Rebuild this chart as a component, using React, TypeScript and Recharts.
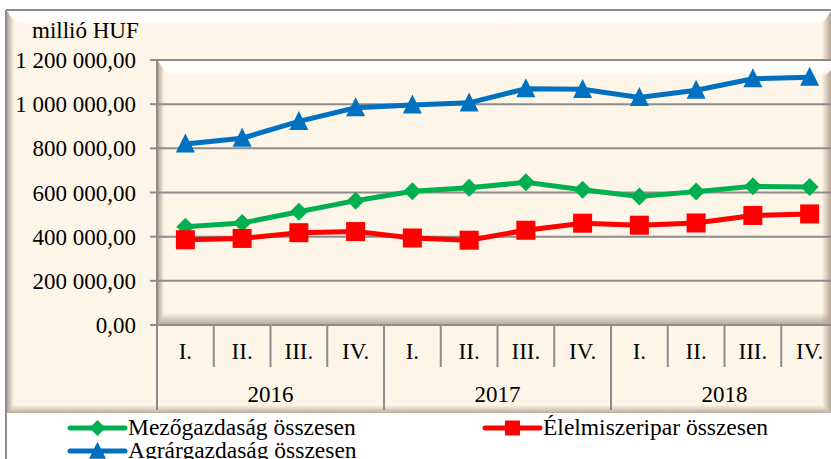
import React from 'react';
import { LineChart, Line, XAxis, YAxis, CartesianGrid, Legend } from 'recharts';

const QUARTERS = ['I.', 'II.', 'III.', 'IV.', 'I.', 'II.', 'III.', 'IV.', 'I.', 'II.', 'III.', 'IV.'];
const YEARS = ['2016', '2017', '2018'];
const MEZO = [445000, 462000, 513000, 563000, 606000, 621000, 646000, 612000, 582000, 604000, 628000, 625000];
const ELEL = [386000, 392000, 418000, 423000, 394000, 384000, 429000, 461000, 452000, 462000, 496000, 503000];
const AGRAR = [820000, 846000, 922000, 984000, 996000, 1006000, 1070000, 1067000, 1030000, 1063000, 1115000, 1122000];
const Y_TICKS = [0, 200000, 400000, 600000, 800000, 1000000, 1200000];
const SERIES_NAMES = ['Mezőgazdaság összesen', 'Élelmiszeripar összesen', 'Agrárgazdaság összesen'];
const UNIT = 'millió HUF';

const data = QUARTERS.map((q, i) => ({
  q,
  mezo: MEZO[i],
  elel: ELEL[i],
  agrar: AGRAR[i],
}));

const FONT = '"Liberation Serif", "Times New Roman", serif';
const FS = 23;
const LFS = 23.5;
const GRID = '#8c8c8c';
const BEIGE = '#FDF5E7';
const GREEN = '#00B050';
const RED = '#FF0000';
const BLUE = '#0070C0';

const CHART_W = 845;
const CHART_H = 459;
const PLOT_L = 157;
const PLOT_T = 60;
const PLOT_B = 325;
const PLOT_R = 838;
const BAND = (PLOT_R - PLOT_L) / QUARTERS.length;

const fmt = (v: number) => String(v).replace(/\B(?=(\d{3})+(?!\d))/g, ' ') + ',00';

const diamondEl = (cx: number, cy: number, r: number, fill: string, key?: any) => (
  <path key={key} d={`M${cx},${cy - r} L${cx + r},${cy} L${cx},${cy + r} L${cx - r},${cy} Z`} fill={fill} />
);
const squareEl = (cx: number, cy: number, s: number, fill: string, key?: any) => (
  <rect key={key} x={cx - s / 2} y={cy - s / 2} width={s} height={s} fill={fill} />
);
const triangleEl = (cx: number, cy: number, s: number, fill: string, key?: any) => (
  <path
    key={key}
    d={`M${cx},${cy - s * 0.55} L${cx + s / 2},${cy + s * 0.45} L${cx - s / 2},${cy + s * 0.45} Z`}
    fill={fill}
  />
);

const dotOf = (kind: string) => (p: any) => {
  const { cx, cy, index } = p;
  if (cx == null || cy == null) return <g key={`e${index}`} />;
  if (kind === 'mezo') return diamondEl(cx, cy, 9, GREEN, `d${index}`);
  if (kind === 'elel') return squareEl(cx, cy, 19, RED, `s${index}`);
  return triangleEl(cx, cy, 19, BLUE, `t${index}`);
};

const QuarterTick = (props: any) => {
  const { x, payload, index } = props;
  const last = index === QUARTERS.length - 1;
  return (
    <g>
      <text x={x} y={359} textAnchor="middle" fontFamily={FONT} fontSize={FS} fill="#000">
        {payload.value}
      </text>
      <line
        x1={x - BAND / 2}
        x2={x - BAND / 2}
        y1={PLOT_B}
        y2={index % 4 === 0 ? 410 : 367}
        stroke={GRID}
        strokeWidth={2}
      />
      {last && <line x1={x + BAND / 2} x2={x + BAND / 2} y1={PLOT_B} y2={410} stroke={GRID} strokeWidth={2} />}
      {index % 4 === 1 && (
        <text x={x + BAND / 2} y={402} textAnchor="middle" fontFamily={FONT} fontSize={FS} fill="#000">
          {YEARS[Math.floor(index / 4)]}
        </text>
      )}
    </g>
  );
};

const LEGEND_POS: Record<string, { x: number; y: number }> = {
  mezo: { x: 70, y: 15 },
  elel: { x: 485, y: 15 },
  agrar: { x: 70, y: 38 },
};

const LegendContent = (props: any) => {
  const { payload = [] } = props;
  return (
    <svg width={831} height={46} style={{ display: 'block' }}>
      {payload.map((p: any, i: number) => {
        const key = String(p.dataKey);
        const pos = LEGEND_POS[key] || { x: 70, y: 15 + 23 * i };
        const cx = pos.x + 27.5;
        const color = p.color;
        let marker: any = null;
        if (key === 'mezo') marker = diamondEl(cx, pos.y, 8, color);
        else if (key === 'elel') marker = squareEl(cx, pos.y, 15, color);
        else marker = triangleEl(cx, pos.y, 17, color);
        return (
          <g key={key}>
            <line x1={pos.x} x2={pos.x + 55} y1={pos.y} y2={pos.y} stroke={color} strokeWidth={5} strokeLinecap="round" />
            {marker}
            <text x={pos.x + 58} y={pos.y + 7} fontFamily={FONT} fontSize={LFS} fill="#000">
              {p.value}
            </text>
          </g>
        );
      })}
    </svg>
  );
};

const Background = () => (
  <svg width={831} height={459} style={{ position: 'absolute', left: 0, top: 0 }}>
    <defs>
      <linearGradient id="topW" x1="0" y1="0" x2="0" y2="1">
        <stop offset="0" stopColor="#ffffff" stopOpacity={1} />
        <stop offset="0.7" stopColor="#ffffff" stopOpacity={0.9} />
        <stop offset="1" stopColor="#ffffff" stopOpacity={0} />
      </linearGradient>
      <linearGradient id="leftS" x1="0" y1="0" x2="1" y2="0">
        <stop offset="0" stopColor="#b5a493" stopOpacity={1} />
        <stop offset="1" stopColor="#b5a493" stopOpacity={0} />
      </linearGradient>
      <linearGradient id="rightS" x1="0" y1="0" x2="1" y2="0">
        <stop offset="0" stopColor="#b5a493" stopOpacity={0} />
        <stop offset="1" stopColor="#b5a493" stopOpacity={1} />
      </linearGradient>
      <linearGradient id="botS" x1="0" y1="0" x2="0" y2="1">
        <stop offset="0" stopColor="#b5a493" stopOpacity={0} />
        <stop offset="1" stopColor="#b5a493" stopOpacity={0.9} />
      </linearGradient>
    </defs>
    <rect x={0} y={0} width={831} height={459} fill="#ffffff" />
    <rect x={7} y={11} width={824} height={402} fill={BEIGE} />
    <polygon points="8,11 831,11 822,25 20,25" fill="url(#topW)" />
    <polygon points="7,11 14,22 14,406 7,413" fill="url(#leftS)" />
    <polygon points="831,11 822,24 822,405 831,413" fill="url(#rightS)" />
    <polygon points="7,413 831,413 822,405 14,405" fill="url(#botS)" />
    <polygon points="158,61 838,61 826,76 170,76" fill="url(#topW)" />
    <polygon points="158,61 164,70 164,316 158,324" fill="url(#leftS)" />
    <polygon points="158,324 838,324 830,313 164,313" fill="url(#botS)" />
    <line x1={6} x2={831} y1={10} y2={10} stroke={GRID} strokeWidth={2} />
    <line x1={6} x2={6} y1={10} y2={459} stroke={GRID} strokeWidth={2} />
  </svg>
);

export default function App() {
  return (
    <div
      style={{
        position: 'fixed',
        left: 0,
        top: 0,
        width: 831,
        height: 459,
        overflow: 'hidden',
        background: '#fff',
      }}
    >
      <Background />
      <div style={{ position: 'absolute', left: 0, top: 0 }}>
        <LineChart
          width={CHART_W}
          height={CHART_H}
          data={data}
          margin={{ top: PLOT_T, right: CHART_W - PLOT_R, left: 0, bottom: 0 }}
        >
          <CartesianGrid horizontal vertical={false} stroke={GRID} strokeWidth={2} />
          <XAxis
            dataKey="q"
            interval={0}
            padding={{ left: BAND / 2, right: BAND / 2 }}
            height={CHART_H - PLOT_B}
            tick={<QuarterTick />}
            tickLine={false}
            axisLine={{ stroke: GRID, strokeWidth: 2 }}
          />
          <YAxis
            width={PLOT_L}
            domain={[0, 1200000]}
            ticks={Y_TICKS}
            tickFormatter={fmt}
            interval={0}
            tickSize={7}
            tickMargin={14}
            tick={{ fontFamily: FONT, fontSize: FS, fill: '#000' }}
            tickLine={{ stroke: GRID, strokeWidth: 2 }}
            axisLine={{ stroke: GRID, strokeWidth: 2 }}
            label={() => (
              <text x={32} y={38} fontFamily={FONT} fontSize={FS} fill="#000">
                {UNIT}
              </text>
            )}
          />
          <Legend
            layout="vertical"
            align="center"
            verticalAlign="middle"
            content={<LegendContent />}
            wrapperStyle={{ position: 'absolute', left: 0, top: 413, width: 831, height: 46 }}
          />
          <Line
            name={SERIES_NAMES[0]}
            dataKey="mezo"
            stroke={GREEN}
            strokeWidth={5}
            dot={dotOf('mezo')}
            activeDot={false}
            isAnimationActive={false}
          />
          <Line
            name={SERIES_NAMES[1]}
            dataKey="elel"
            stroke={RED}
            strokeWidth={5}
            dot={dotOf('elel')}
            activeDot={false}
            isAnimationActive={false}
          />
          <Line
            name={SERIES_NAMES[2]}
            dataKey="agrar"
            stroke={BLUE}
            strokeWidth={5}
            dot={dotOf('agrar')}
            activeDot={false}
            isAnimationActive={false}
          />
        </LineChart>
      </div>
    </div>
  );
}
